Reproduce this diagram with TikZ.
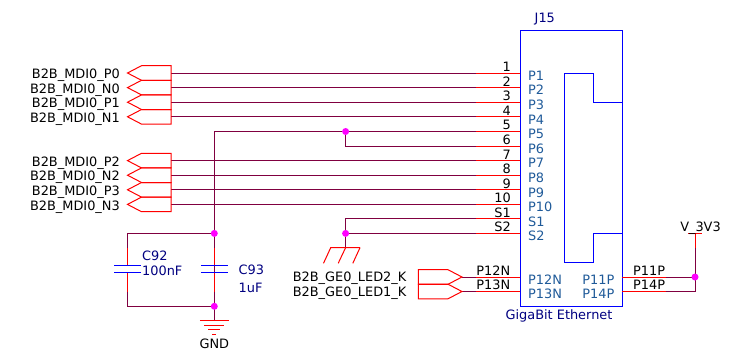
\documentclass[tikz,border=0pt]{standalone}
\usepackage{fontspec}
\setmainfont{DejaVu Sans}
\definecolor{wire}{HTML}{800040}
\definecolor{pinred}{HTML}{FF0000}
\definecolor{body}{HTML}{0000FF}
\definecolor{refc}{HTML}{000080}
\definecolor{pinname}{HTML}{1F5A99}
\definecolor{junc}{HTML}{FF00FF}
\pgfdeclarelayer{front}
\pgfsetlayers{main,front}
\tikzset{
  wireline/.style={draw=wire,line width=1pt},
  redline/.style={draw=pinred,line width=1pt},
  bodyline/.style={draw=body,line width=1pt},
  capplate/.style={draw=body,line width=1pt},
  txt/.style={font=\fontsize{12.9pt}{14pt}\selectfont,inner sep=0pt,text=black},
  lblr/.style={txt,anchor=base east},
  lbll/.style={txt,anchor=base west},
  pinnm/.style={txt,anchor=base west,text=pinname},
  pinnr/.style={txt,anchor=base east,text=pinname},
  refl/.style={txt,anchor=base west,text=refc},
  dotnode/.style={circle,fill=junc,inner sep=0pt,minimum size=7pt},
}
\begin{document}
\begin{tikzpicture}[x=1pt,y=-1pt]
\useasboundingbox (0,0) rectangle (747,360);
% connector body
\draw[bodyline] (520.4,30) rectangle (622,306.3);
\draw[bodyline] (622,102) -- (593.4,102) -- (593.4,73) -- (564.4,73) -- (564.4,262.3) -- (593.4,262.3) -- (593.4,233.4) -- (622,233.4);
\node[refl] (j15) at (534.5,22) {J15};
\node[txt,anchor=base,text=refc] (jval) at (559,319) {GigaBit Ethernet};
% pins with hierarchical labels
\foreach \nm/\num/\py/\lab in {P1/1/73/B2B_MDI0_P0,P2/2/87.6/B2B_MDI0_N0,P3/3/102.2/B2B_MDI0_P1,P4/4/116.8/B2B_MDI0_N1,P7/7/160.6/B2B_MDI0_P2,P8/8/175.2/B2B_MDI0_N2,P9/9/189.8/B2B_MDI0_P3,P10/10/204.4/B2B_MDI0_N3}{
  \coordinate (pin\nm) at (520.4,\py);
  \coordinate (stub\nm) at (476,\py);
  \coordinate (flag\nm) at (171,\py);
  \draw[redline] (pin\nm) -- (stub\nm);
  \draw[wireline] (stub\nm) -- (flag\nm);
  \draw[redline,line join=miter] (flag\nm) -- ++(0,-7.3) -- ++(-29.5,0) -- ++(-14,7.3) -- ++(14,7.3) -- ++(29.5,0) -- cycle;
  \node[lblr] (num\nm) at (511,\py-1.6) {\num};
  \node[pinnm] (name\nm) at (528,\py+7.3) {\nm};
  \node[lblr] (lab\nm) at (120,\py+5.7) {\detokenize\expandafter{\lab}};
}
% P5, P6, S1, S2 stubs
\foreach \nm/\num/\py in {P5/5/131.5,P6/6/146,S1/S1/218.9,S2/S2/233.4}{
  \coordinate (pin\nm) at (520.4,\py);
  \coordinate (stub\nm) at (476,\py);
  \draw[redline] (pin\nm) -- (stub\nm);
  \node[lblr] (num\nm) at (511,\py-1.6) {\num};
  \node[pinnm] (name\nm) at (528,\py+7.3) {\nm};
}
% power net
\begin{pgfonlayer}{front}
\node[dotnode] (j1) at (345.6,131.5) {};
\node[dotnode] (j2) at (214.3,233.4) {};
\node[dotnode] (j3) at (214.3,306.3) {};
\node[dotnode] (j4) at (345.6,233.4) {};
\node[dotnode] (j5) at (695,277) {};
\end{pgfonlayer}
\coordinate (top5) at (214.3,131.5);
\coordinate (c6) at (345.6,146);
\coordinate (s1c) at (345.6,218.9);
\coordinate (g1) at (345.6,247.7);
\coordinate (c92t) at (127.5,233.4);
\coordinate (c92b) at (127.5,306.3);
\draw[wireline] (stubP5) -- (top5) -- (j3.center);
\draw[wireline] (j1.center) -- (c6) -- (stubP6);
\draw[wireline] (stubS1) -- (s1c) -- (g1);
\draw[wireline] (stubS2) -- (j4.center);
% capacitors
\foreach \cx/\cn in {127.5/a,214.3/b}{
  \coordinate (c\cn t) at (\cx,247.7);
  \coordinate (c\cn u) at (\cx,265.3);
  \coordinate (c\cn v) at (\cx,272.7);
  \coordinate (c\cn w) at (\cx,291.7);
  \draw[redline] (c\cn t) -- (c\cn u);
  \draw[redline] (c\cn v) -- (c\cn w);
  \draw[capplate] (\cx-13.5,265.3) -- (\cx+13.5,265.3);
  \draw[capplate] (\cx-13.5,272.7) -- (\cx+13.5,272.7);
}
\draw[wireline] (j2.center) -- (c92t) -- (cat);
\draw[wireline] (caw) -- (c92b) -- (j3.center);
\draw[wireline] (j2.center) -- (cbt);
\draw[wireline] (cbw) -- (j3.center);
\node[refl] (c92) at (142,260.7) {C92};
\node[refl] (v92) at (142,275.2) {100nF};
\node[refl] (c93) at (238.5,274.7) {C93};
\node[refl] (v93) at (238.5,292.7) {1uF};
% GND
\coordinate (g0) at (214.3,320.8);
\draw[wireline] (j3.center) -- (g0);
\draw[redline] (199.8,320.8) -- (228.8,320.8);
\draw[redline] (204.3,325.2) -- (224.3,325.2);
\draw[redline] (208.3,329.5) -- (220.3,329.5);
\draw[redline] (212.3,334) -- (216.3,334);
\node[txt,anchor=base] (gnd) at (214.3,348) {GND};
% ground bus symbol
\draw[redline] (360,247.7) -- (330.7,247.7) -- (323.5,263.3);
\draw[redline] (345.6,247.7) -- (338.2,263.3);
\draw[redline] (360,247.7) -- (352.8,263.3);
% P12N, P13N
\foreach \nm/\py/\lab in {P12N/277/B2B_GE0_LED2_K,P13N/291.5/B2B_GE0_LED1_K}{
  \coordinate (pin\nm) at (520.4,\py);
  \coordinate (stub\nm) at (476,\py);
  \coordinate (flag\nm) at (462,\py);
  \draw[redline] (pin\nm) -- (stub\nm);
  \draw[wireline] (stub\nm) -- (flag\nm);
  \draw[redline] (flag\nm) -- ++(-14,-7.3) -- ++(-29.7,0) -- ++(0,14.6) -- ++(29.7,0) -- cycle;
  \node[lblr] (num\nm) at (510.5,\py-1.6) {\nm};
  \node[pinnm] (name\nm) at (528,\py+7.3) {\nm};
  \node[lblr] (lab\nm) at (406.5,\py+4.5) {\detokenize\expandafter{\lab}};
}
% P11P, P14P
\coordinate (pinP11P) at (622,277);
\coordinate (pinP14P) at (622,291.5);
\coordinate (stubP11P) at (665.6,277);
\coordinate (stubP14P) at (665.6,291.5);
\coordinate (c14) at (695,291.5);
\coordinate (vs) at (695,248);
\coordinate (vt) at (695,233.4);
\draw[redline] (pinP11P) -- (stubP11P);
\draw[redline] (pinP14P) -- (stubP14P);
\draw[wireline] (stubP11P) -- (j5.center);
\draw[wireline] (stubP14P) -- (c14) -- (vs);
\draw[redline] (vs) -- (vt);
\draw[redline] (687.8,233.4) -- (702.4,233.4);
\node[txt,anchor=base] (vcc) at (700.5,231.5) {V\_3V3};
\node[pinnr] (nmP11P) at (614.5,284.3) {P11P};
\node[pinnr] (nmP14P) at (614.5,298.8) {P14P};
\node[lbll] (nP11P) at (633,275.4) {P11P};
\node[lbll] (nP14P) at (633,289.9) {P14P};
\end{tikzpicture}
\end{document}
